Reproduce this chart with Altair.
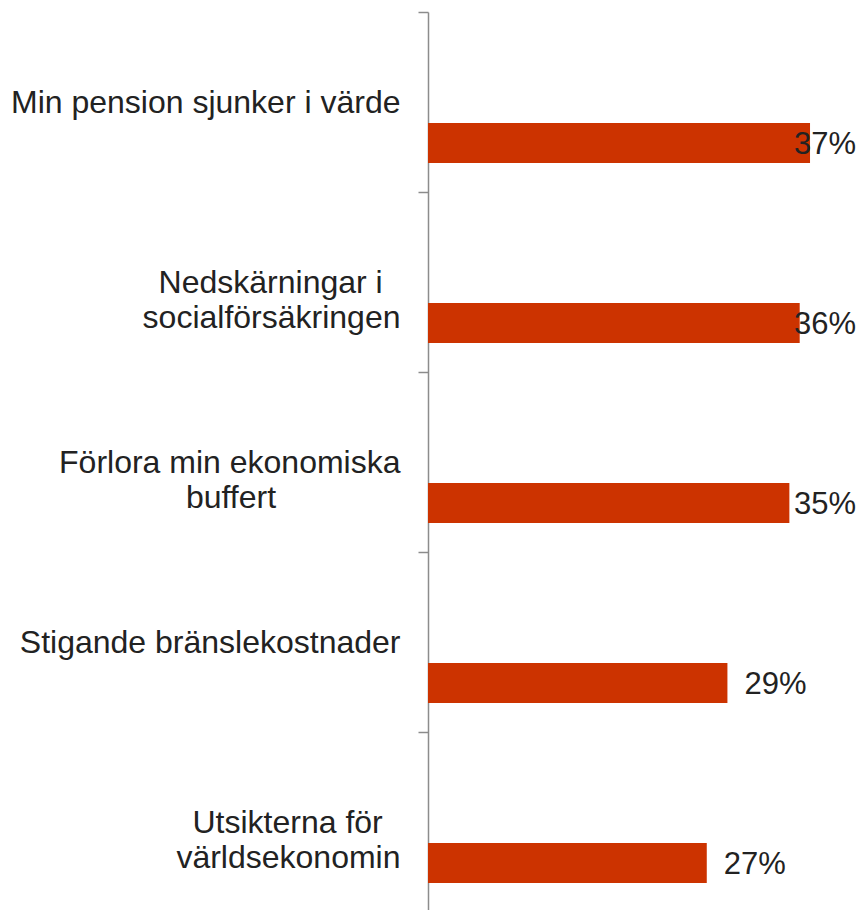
import altair as alt
import pandas as pd

NB = "\u00a0"
ZW = "\u200b"
categories = [
    "Min pension sjunker i värde",
    "Nedskärningar i" + NB * 2 + ZW + "|socialförsäkringen",
    "Förlora min ekonomiska|buffert" + NB * 14 + ZW,
    "Stigande bränslekostnader",
    "Utsikterna för" + NB * 2 + ZW + "|världsekonomin",
]
values = [37, 36, 35, 29, 27]
labels = ["37%", "36%", "35%", "29%", "27%"]

df = pd.DataFrame({"cat": categories, "value": values, "label": labels})

FONT = "Liberation Sans"
TXT = "#222222"

y_enc = alt.Y(
    "cat:N",
    sort=categories,
    title=None,
    scale=alt.Scale(paddingInner=0, paddingOuter=0),
    axis=alt.Axis(
        tickBand="extent",
        domainColor="#8c8c8c",
        domainWidth=1.5,
        tickColor="#8c8c8c",
        tickWidth=1.5,
        tickSize=10,
        labelPadding=18,
        labelFont=FONT,
        labelFontSize=32,
        labelColor=TXT,
        labelAlign="right",
        labelBaseline="middle",
        labelLimit=0,
        labelLineHeight=35,
        labelExpr="split(datum.label, '|')",
        grid=False,
    ),
)

x_scale = alt.Scale(domain=[0, 40], nice=False)

bars = alt.Chart(df).mark_bar(color="#CC3300", size=40, yOffset=41).encode(
    x=alt.X("value:Q", scale=x_scale, axis=None),
    y=y_enc,
)

text = (
    alt.Chart(df)
    .transform_calculate(pos="min(datum.value, 33.8)")
    .mark_text(
        align="left",
        baseline="middle",
        dx=17,
        yOffset=43,
        font=FONT,
        fontSize=31,
        color=TXT,
    )
    .encode(
        x=alt.X("pos:Q", scale=x_scale, axis=None),
        y=alt.Y("cat:N", sort=categories),
        text="label:N",
    )
)

chart = (
    alt.layer(bars, text)
    .properties(
        width=413,
        height=900,
        autosize=alt.AutoSizeParams(type="none"),
        padding={"top": 4, "left": 420, "right": 16, "bottom": 0},
    )
    .configure_view(stroke=None)
)

chart.save("out.html", embed_options={"renderer": "svg", "actions": False})
